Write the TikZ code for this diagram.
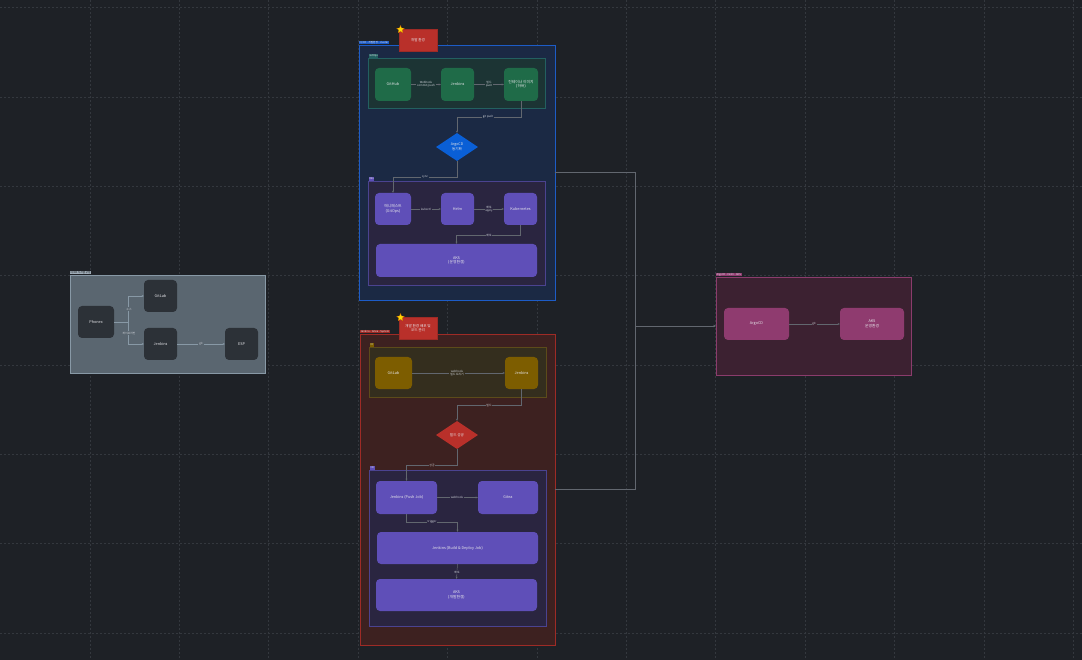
\documentclass[tikz,border=0pt]{standalone}
\usepackage{fontspec}
\setmainfont{Noto Sans CJK KR}
\usetikzlibrary{shapes.geometric,arrows.meta}
\definecolor{bgc}{HTML}{1E2126}
\definecolor{gridc}{HTML}{34383E}
\definecolor{bluefill}{HTML}{1B2944}
\definecolor{blueline}{HTML}{1D5CC7}
\definecolor{greensubfill}{HTML}{1C3434}
\definecolor{greensubline}{HTML}{236060}
\definecolor{greennode}{HTML}{1F6B48}
\definecolor{bluedia}{HTML}{0A5FD6}
\definecolor{purpsubfill}{HTML}{2A2540}
\definecolor{purpsubline}{HTML}{4B4390}
\definecolor{purpnode}{HTML}{5F4FB8}
\definecolor{redfill}{HTML}{3D2120}
\definecolor{redline}{HTML}{9E2B26}
\definecolor{yelsubfill}{HTML}{342E1E}
\definecolor{yelsubline}{HTML}{5C4B1A}
\definecolor{yelnode}{HTML}{7D5D00}
\definecolor{reddia}{HTML}{B9302A}
\definecolor{greyfill}{HTML}{5A6670}
\definecolor{greyline}{HTML}{8899A6}
\definecolor{darknode}{HTML}{2C3137}
\definecolor{pinkfill}{HTML}{3C2131}
\definecolor{pinkline}{HTML}{8B3C6C}
\definecolor{pinknode}{HTML}{8F3B6F}
\definecolor{connc}{HTML}{62676F}
\definecolor{txtc}{HTML}{E6E6EA}
\definecolor{tagtxt}{HTML}{D0D4DA}
\tikzset{
  grp/.style={draw, line width=0.6pt, rectangle, inner sep=0pt},
  subgrp/.style={draw, line width=0.5pt, rectangle, inner sep=0pt},
  boxnode/.style={rectangle, rounded corners=4pt, inner sep=1pt, text=txtc, align=center, font=\fontsize{3.8}{4.6}\selectfont},
  dianode/.style={diamond, aspect=1.5, inner sep=0pt, minimum width=42pt, minimum height=28pt, text=txtc, align=center, font=\fontsize{3.6}{4.4}\selectfont},
  tagnode/.style={rectangle, inner sep=0.6pt, anchor=south west, text=tagtxt, font=\fontsize{2.6}{3}\selectfont},
  badge/.style={rectangle, fill=reddia, draw=redline, inner sep=0pt, minimum width=38pt, minimum height=22pt, text=txtc, align=center, font=\fontsize{3.6}{4.4}\selectfont},
  conn/.style={draw=connc, line width=0.5pt, -{Stealth[length=2.2pt,width=2pt]}},
  lbl/.style={inner sep=0.8pt, text=tagtxt, align=center, font=\fontsize{2.8}{3.2}\selectfont},
  staricon/.style={star, star points=5, star point ratio=2.2, fill=yellow!75!orange, draw=orange!80!black, line width=0.2pt, minimum size=8pt, inner sep=0pt}
}
\begin{document}
\begin{tikzpicture}[x=1pt,y=-1pt]
\useasboundingbox (0,0) rectangle (1082,660);
\fill[bgc] (0,0) rectangle (1082,660);
% grid
\foreach \k in {1,...,12} {
  \draw[gridc, line width=0.5pt, dash pattern=on 2pt off 2pt] ({0.5+89.4*\k},0) -- ({0.5+89.4*\k},660);
}
\foreach \k in {0,...,7} {
  \draw[gridc, line width=0.5pt, dash pattern=on 2pt off 2pt] (0,{7.7+89.3*\k}) -- (1082,{7.7+89.3*\k});
}

% ===== left group =====
\node[grp, fill=greyfill, draw=greyline, minimum width=195pt, minimum height=98pt] (leftgrp) at (167.5,324) {};
\node[tagnode, fill=greyline!80!white, text=black] (lefttag) at (leftgrp.north west) {CI/CD 시스템 구성};
\node[boxnode, fill=darknode, minimum width=36pt, minimum height=32pt] (lclient) at (96,322) {Phonex};
\node[boxnode, fill=darknode, minimum width=33pt, minimum height=32pt] (lgit) at (160.5,296) {GitLab};
\node[boxnode, fill=darknode, minimum width=33pt, minimum height=32pt] (ljen) at (160.5,344) {Jenkins};
\node[boxnode, fill=darknode, minimum width=33pt, minimum height=32pt] (lesp) at (241.5,344) {ESP};
\draw[conn, draw=greyline] (lclient.east) -- (128,322) |- (lgit.west);
\draw[conn, draw=greyline] (lclient.east) -- (128,322) |- (ljen.west);
\draw[conn, draw=greyline] (ljen.east) -- (lesp.west);
\node[lbl, fill=greyfill] (llbl1) at (129,309) {소스};
\node[lbl, fill=greyfill] (llbl2) at (129,333) {파이프라인};
\node[lbl, fill=greyfill] (llbl3) at (201,344) {git};

% ===== blue group =====
\node[grp, fill=bluefill, draw=blueline, minimum width=196pt, minimum height=255pt] (bluegrp) at (457,172.5) {};
\node[tagnode, fill=blueline, text=txtc] (bluetag) at (bluegrp.north west) {CI/CD - 개발환경 - cluster};
\node[badge] (bluebadge) at (418,40) {개발 환경};
\node[staricon] (bluestar) at (400.5,29.5) {};
% green sub
\node[subgrp, fill=greensubfill, draw=greensubline, minimum width=177pt, minimum height=50pt] (greensub) at (456.5,83) {};
\node[tagnode, fill=greensubline, text=txtc, anchor=south west] (greentag) at ([xshift=1pt]greensub.north west) {GitOps};
\node[boxnode, fill=greennode, minimum width=36pt, minimum height=33pt] (g1) at (393,84.5) {GitHub};
\node[boxnode, fill=greennode, minimum width=33pt, minimum height=33pt] (g2) at (457.5,84.5) {Jenkins};
\node[boxnode, fill=greennode, minimum width=34pt, minimum height=33pt] (g3) at (521,84.5) {컨테이너 이미지\\(하버)};
\draw[conn] (g1.east) -- (g2.west);
\draw[conn] (g2.east) -- (g3.west);
\node[lbl, fill=greensubfill] (gl1) at (426,84.5) {Webhook\\commit/push};
\node[lbl, fill=greensubfill] (gl2) at (489,84.5) {빌드\\push};
\node[dianode, fill=bluedia] (dia1) at (457,147) {ArgoCD\\동기화};
\draw[conn] (g3.south) -- (521,117) -| (dia1.north);
\node[lbl, fill=bluefill] (gl3) at (488,117) {git push};
% purple sub 1
\node[subgrp, fill=purpsubfill, draw=purpsubline, minimum width=177pt, minimum height=104pt] (purpsub1) at (456.5,233) {};
\node[tagnode, fill=purpnode, text=txtc] (purptag1) at ([xshift=1pt]purpsub1.north west) {K8s};
\node[boxnode, fill=purpnode, minimum width=36pt, minimum height=32pt] (p1) at (393,209) {매니페스트\\(GitOps)};
\node[boxnode, fill=purpnode, minimum width=33pt, minimum height=32pt] (p2) at (457.5,209) {Helm};
\node[boxnode, fill=purpnode, minimum width=33pt, minimum height=32pt] (p3) at (520.5,209) {Kubernetes};
\node[boxnode, fill=purpnode, minimum width=161pt, minimum height=33pt] (p4) at (456.5,260.5) {AKS\\(운영환경)};
\draw[conn] (dia1.south) -- (457,177) -| (p1.north);
\node[lbl, fill=bluefill] (pl0) at (425,177) {sync};
\draw[conn] (p1.east) -- (p2.west);
\draw[conn] (p2.east) -- (p3.west);
\node[lbl, fill=purpsubfill] (pl1) at (426,209) {kubectl};
\node[lbl, fill=purpsubfill] (pl2) at (489,209) {배포\\apply};
\draw[conn] (p3.south) -- (520.5,235) -| (p4.north);
\node[lbl, fill=purpsubfill] (pl3) at (489,235) {배포};

% ===== red group =====
\node[grp, fill=redfill, draw=redline, minimum width=195pt, minimum height=311pt] (redgrp) at (457.5,489.5) {};
\node[tagnode, fill=redline, text=txtc] (redtag) at (redgrp.north west) {Jenkins - Gitea - System};
\node[badge] (redbadge) at (418,328) {개발 환경 배포 및\\코드 관리};
\node[staricon] (redstar) at (400.5,317.5) {};
% yellow sub
\node[subgrp, fill=yelsubfill, draw=yelsubline, minimum width=177pt, minimum height=50pt] (yelsub) at (457.5,372) {};
\node[tagnode, fill=yelnode, text=txtc] (yeltag) at ([xshift=1pt]yelsub.north west) {CI};
\node[boxnode, fill=yelnode, minimum width=37pt, minimum height=32pt] (y1) at (393.5,373) {GitLab};
\node[boxnode, fill=yelnode, minimum width=33pt, minimum height=32pt] (y2) at (521.5,373) {Jenkins};
\draw[conn] (y1.east) -- (y2.west);
\node[lbl, fill=yelsubfill] (yl1) at (457,373) {webhook\\빌드 트리거};
\node[dianode, fill=reddia] (dia2) at (457,435) {빌드 성공};
\draw[conn] (y2.south) -- (521.5,405) -| (dia2.north);
\node[lbl, fill=redfill] (yl2) at (489,405) {빌드};
% purple sub 2
\node[subgrp, fill=purpsubfill, draw=purpsubline, minimum width=177pt, minimum height=156pt] (purpsub2) at (457.5,548) {};
\node[tagnode, fill=purpnode, text=txtc] (purptag2) at ([xshift=1pt]purpsub2.north west) {CD};
\node[boxnode, fill=purpnode, minimum width=61pt, minimum height=33pt] (q1) at (406.5,497.5) {Jenkins (Push Job)};
\node[boxnode, fill=purpnode, minimum width=60pt, minimum height=33pt] (q2) at (508,497.5) {Gitea};
\node[boxnode, fill=purpnode, minimum width=161pt, minimum height=32pt] (q3) at (457.5,548) {Jenkins (Build \& Deploy Job)};
\node[boxnode, fill=purpnode, minimum width=161pt, minimum height=32pt] (q4) at (456.5,595) {AKS\\(개발환경)};
\draw[conn] (dia2.south) -- (457,465) -| (q1.north);
\node[lbl, fill=redfill] (ql0) at (432,465) {성공};
\draw[conn] (q1.east) -- (q2.west);
\node[lbl, fill=purpsubfill] (ql1) at (457,497.5) {webhook};
\draw[conn] (q1.south) -- (406.5,522) -| (q3.north);
\node[lbl, fill=purpsubfill] (ql2) at (432,522) {trigger};
\draw[conn] (q3.south) -- (q4.north);
\node[lbl, fill=purpsubfill] (ql3) at (457,572) {배포};

% ===== right group =====
\node[grp, fill=pinkfill, draw=pinkline, minimum width=195pt, minimum height=98pt] (rightgrp) at (813.5,326) {};
\node[tagnode, fill=pinknode, text=txtc] (righttag) at (rightgrp.north west) {ArgoCD - Helm - AKS};
\node[boxnode, fill=pinknode, minimum width=65pt, minimum height=32pt] (r1) at (756.5,324) {ArgoCD};
\node[boxnode, fill=pinknode, minimum width=64pt, minimum height=32pt] (r2) at (872,324) {AKS\\운영환경};
\draw[conn] (r1.east) -- (r2.west);
\node[lbl, fill=pinkfill] (rl1) at (814,324) {git};

% ===== cross connectors =====
\draw[conn] (bluegrp.east) -- (635,172.5) |- (rightgrp.west);
\draw[conn] (redgrp.east) -- (635,489.5) |- (rightgrp.west);
\end{tikzpicture}
\end{document}
